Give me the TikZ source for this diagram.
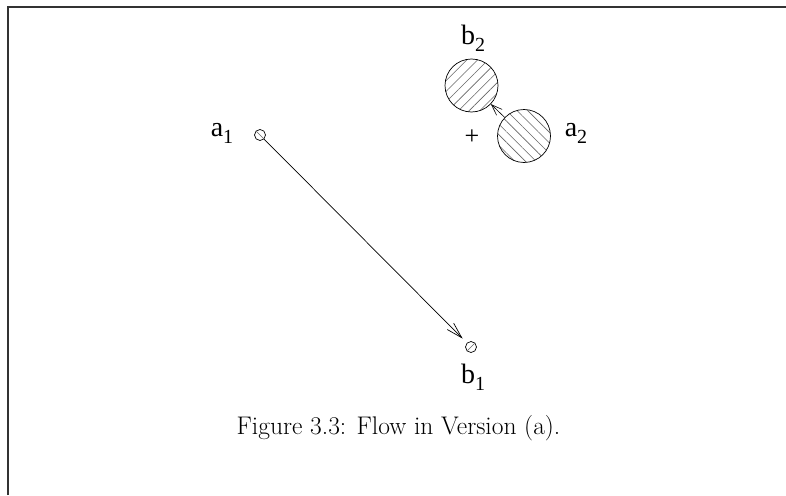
\documentclass[tikz,border=0pt]{standalone}
\usepackage{fontspec}
\setmainfont{Liberation Serif}
\newfontfamily\capfont{Latin Modern Roman}
\usetikzlibrary{arrows.meta,patterns.meta}
\newcommand{\lbltext}[2]{{\fontsize{28}{28}\selectfont #1\raisebox{-0.25em}{\fontsize{20}{20}\selectfont #2}}}
\begin{document}
\begin{tikzpicture}[x=1pt,y=-1pt,
  frame/.style={draw=black!80,line width=1.4pt},
  bigdisk/.style={circle,draw,line width=0.7pt,minimum size=53pt,inner sep=0pt},
  smalldisk/.style={circle,draw,line width=0.7pt,minimum size=11pt,inner sep=0pt},
  hatchne/.style={pattern={Lines[angle=45,distance=7.5pt,line width=0.6pt]},pattern color=black!60},
  hatchnw/.style={pattern={Lines[angle=-45,distance=7.5pt,line width=0.6pt]},pattern color=black!60},
  flow/.style={line width=0.7pt,-{Straight Barb[length=16pt,width=9pt,line width=0.7pt]}},
  lab/.style={inner sep=0pt}]
\useasboundingbox (0,0) rectangle (786,495);
\fill[white] (0,0) rectangle (786,495);
% frame
\draw[frame] (8,495) -- (8,7) -- (786,7);
% nodes
\node[bigdisk,hatchne] (b2) at (471.5,85.5) {};
\node[bigdisk,hatchnw] (a2) at (524,136) {};
\node[smalldisk] (a1) at (260,135) {};
\node[smalldisk] (b1) at (471,347) {};
\draw[black!60,line width=0.6pt] (a1.north west) -- (a1.south east);
\draw[black!60,line width=0.6pt] (b1.south west) -- (b1.north east);
% plus
\node[inner sep=0pt] (plus) at (472,137) {\fontsize{26}{26}\selectfont +};
% labels
\node[lab] (la1) at (222,133) {\lbltext{a}{1}};
\node[lab] (lb2) at (473,38) {\lbltext{b}{2}};
\node[lab] (la2) at (576,133) {\lbltext{a}{2}};
\node[lab] (lb1) at (473,377) {\lbltext{b}{1}};
% connectors
\draw[flow,shorten >=6pt] (a1) -- (b1);
\draw[flow,line width=0.6pt,-{Straight Barb[length=11pt,width=8pt,line width=0.6pt]}] (a2) -- (b2);
% caption
\node[inner sep=0pt] (cap) at (398.5,428) {\capfont\fontsize{25.5}{30}\selectfont Figure 3.3: Flow in Version (a).};
\end{tikzpicture}
\end{document}
